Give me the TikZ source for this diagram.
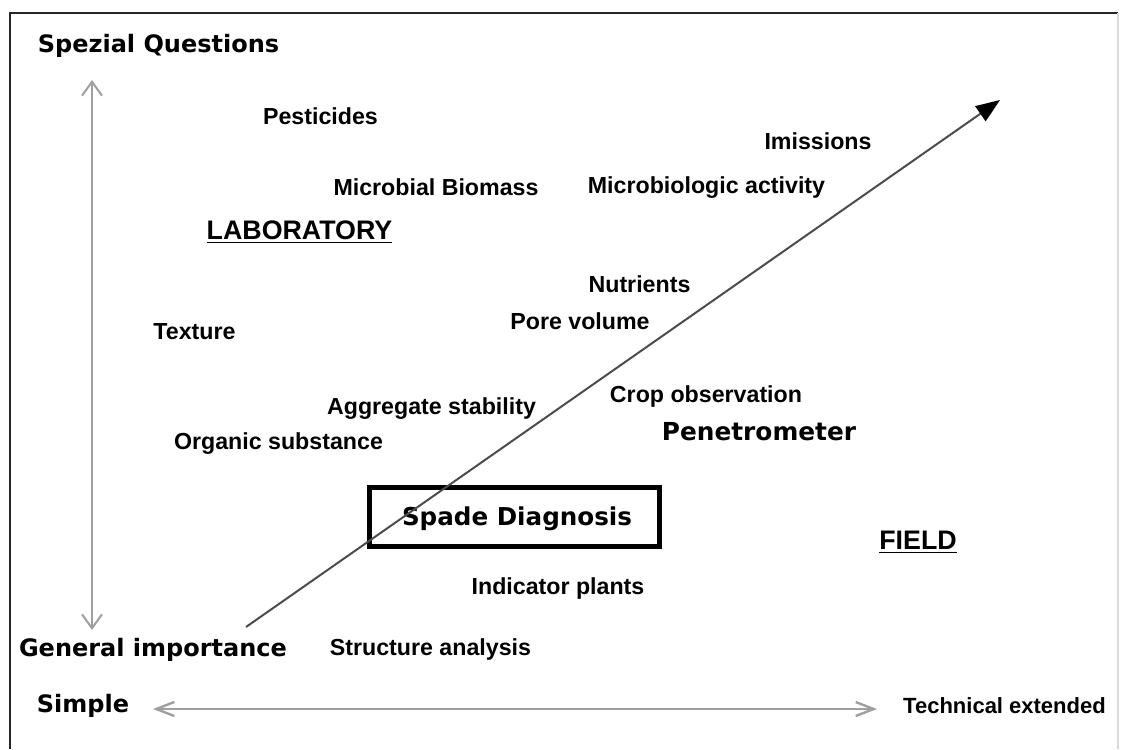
\documentclass[tikz,border=0pt]{standalone}
\usepackage{fontspec}
\setmainfont{Liberation Sans}
\newfontfamily\verd{DejaVu Sans}
\usetikzlibrary{arrows.meta}
\tikzstyle{term} = [inner sep=0pt, font=\fontsize{11.6}{12}\selectfont\bfseries]
\tikzstyle{place} = [term, font=\fontsize{13.4}{14}\selectfont\bfseries]
\tikzstyle{axis label} = [inner sep=0pt, font=\fontsize{12}{12}\verd\bfseries]
\tikzstyle{axisline} = [draw=gray!75, line width=1pt]
\tikzstyle{spade} = [draw=black, line width=2.5pt, minimum width=145pt,
minimum height=29.5pt, inner sep=0pt]

\begin{document}
\begin{tikzpicture}[x=0.5pt, y=-0.5pt]
    \useasboundingbox (0,0) rectangle (1123,749);
    % frame
    \draw[line width=1pt, black!85] (10,749) -- (10,13) -- (1118,13);
    \draw[line width=0.6pt, gray!30] (1118,13) -- (1118,749);

    % axis labels
    \node[axis label](spezial) at (158.5,46) {Spezial Questions};
    \node[axis label](general) at (153,650) {General importance};
    \node[axis label](simple) at (83,706) {Simple};
    \node[term, font=\fontsize{11}{11}\selectfont\bfseries](technical) at (1004.5,706) {Technical extended};

    % measurements
    \node[term](pesticides) at (320.5,116) {Pesticides};
    \node[term](imissions) at (818,141) {Imissions};
    \node[term](biomass) at (436,187) {Microbial Biomass};
    \node[term](activity) at (706.5,188) {Microbiologic activity};
    \node[place](laboratory) at (299.5,232) {\underline{LABORATORY}};
    \node[term](nutrients) at (639.5,284) {Nutrients};
    \node[term](pore) at (580,321) {Pore volume};
    \node[term](texture) at (194.5,332) {Texture};
    \node[term](crop) at (706,396) {Crop observation};
    \node[term](aggregate) at (431.5,409) {Aggregate stability};
    \node[axis label, font=\fontsize{12.4}{12}\verd\bfseries](penetrometer) at (759,432) {Penetrometer};
    \node[term](organic) at (278.5,444) {Organic substance};
    \node[spade](spadebox) at (514.5,517) {};
    \node[axis label, font=\fontsize{12.3}{12}\verd\bfseries](spade) at (517,519) {Spade Diagnosis};
    \node[place](field) at (918,542) {\underline{FIELD}};
    \node[term](indicator) at (558,588) {Indicator plants};
    \node[term](structure) at (430.5,649) {Structure analysis};

    % axes
    \coordinate (v-top) at (92,80);
    \coordinate (v-bot) at (92,630);
    \coordinate (h-left) at (153,709);
    \coordinate (h-right) at (877,709);
    \coordinate (d-start) at (246,627);
    \coordinate (d-end) at (1000,100);
    \draw[axisline, {Straight Barb[length=7pt,width=10pt]}-{Straight Barb[length=7pt,width=10pt]}] (v-top) -- (v-bot);
    \draw[axisline, line width=1.2pt, {Straight Barb[length=9pt,width=7pt]}-{Straight Barb[length=9pt,width=7pt]}] (h-left) -- (h-right);
    \draw[black!70, line width=1pt, -{Triangle[length=12pt,width=9pt,fill=black,color=black]}] (d-start) -- (d-end);
\end{tikzpicture}
\end{document}
